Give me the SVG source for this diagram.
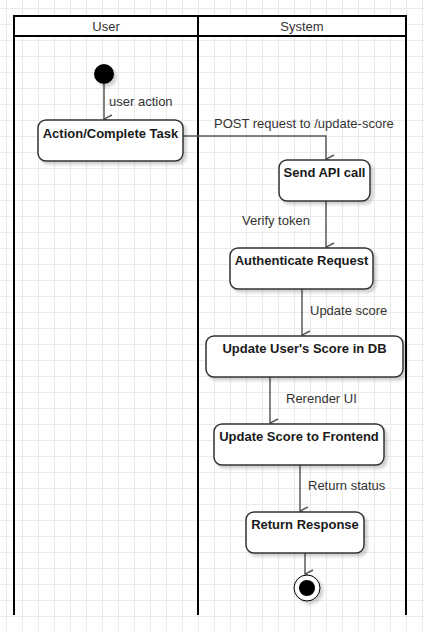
<svg xmlns="http://www.w3.org/2000/svg" width="424" height="631" viewBox="0 0 424 631">
<defs>
<pattern id="grid" x="6" y="8" width="16" height="16" patternUnits="userSpaceOnUse">
<path d="M0.5 0V16M0 0.5H16" fill="none" stroke="#ebebeb" stroke-width="1"/>
</pattern>
<filter id="sh" x="-20%" y="-20%" width="150%" height="150%">
<feDropShadow dx="3" dy="3" stdDeviation="1.5" flood-color="#000" flood-opacity="0.18"/>
</filter>
<marker id="arr" viewBox="0 0 12 12" refX="6" refY="11" markerWidth="12" markerHeight="12" markerUnits="userSpaceOnUse" orient="auto-start-reverse">
<path d="M2 3L6 11L10 3" fill="none" stroke="#595959" stroke-width="1.5"/>
</marker>
</defs>
<style>
.node rect{fill:#fff;stroke:#333;stroke-width:1.5;filter:url(#sh)}
.nt{font-family:"Liberation Sans",Arial,sans-serif;font-size:13px;font-weight:bold;fill:#1a1a1a;text-anchor:middle}
.lbl{font-family:"Liberation Sans",Arial,sans-serif;font-size:13px;fill:#333}
.hdr{font-family:"Liberation Sans",Arial,sans-serif;font-size:13px;fill:#333;text-anchor:middle}
.edge{fill:none;stroke:#595959;stroke-width:1.5;marker-end:url(#arr)}
.lane{fill:none;stroke:#000;stroke-width:2}
</style>
<rect width="424" height="631" fill="#fff"/>
<rect width="424" height="631" fill="url(#grid)"/>
<g id="swimlanes">
<rect x="14" y="16" width="392" height="20" fill="#fff" stroke="#000" stroke-width="2"/>
<path class="lane" d="M14 36V615M198 16V615M406 36V615"/>
<text class="hdr" x="106" y="30.5">User</text>
<text class="hdr" x="302" y="30.5">System</text>
</g>
<g id="connectors">
<path class="edge" d="M104 84V119"/>
<text class="lbl" x="109" y="106">user action</text>
<path class="edge" d="M183 136H326V159"/>
<text class="lbl" x="214" y="128">POST request to /update-score</text>
<path class="edge" d="M326 201V247"/>
<text class="lbl" x="242" y="225">Verify token</text>
<path class="edge" d="M302 289V335"/>
<text class="lbl" x="310" y="315">Update score</text>
<path class="edge" d="M270 377V423"/>
<text class="lbl" x="286" y="403">Rerender UI</text>
<path class="edge" d="M300 465V511"/>
<text class="lbl" x="308" y="490">Return status</text>
<path class="edge" d="M305 553V574"/>
</g>
<g id="start">
<circle cx="104" cy="74" r="10" fill="#000" filter="url(#sh)"/>
</g>
<g id="action" class="node">
<rect x="38" y="120" width="145" height="41" rx="8"/>
<text class="nt" x="110.5" y="138">Action/Complete Task</text>
</g>
<g id="sendapi" class="node">
<rect x="279" y="160" width="91" height="41" rx="8"/>
<text class="nt" x="324.5" y="177">Send API call</text>
</g>
<g id="auth" class="node">
<rect x="230" y="248" width="143" height="41" rx="8"/>
<text class="nt" x="301.5" y="265">Authenticate Request</text>
</g>
<g id="updatedb" class="node">
<rect x="206" y="336" width="197" height="41" rx="8"/>
<text class="nt" x="304.5" y="353">Update User's Score in DB</text>
</g>
<g id="frontend" class="node">
<rect x="214" y="424" width="170" height="41" rx="8"/>
<text class="nt" x="299" y="441">Update Score to Frontend</text>
</g>
<g id="response" class="node">
<rect x="246" y="512" width="118" height="41" rx="8"/>
<text class="nt" x="305" y="529">Return Response</text>
</g>
<g id="end">
<circle cx="307" cy="588" r="13" fill="#fff" stroke="#000" stroke-width="1" filter="url(#sh)"/>
<circle cx="307" cy="588" r="8" fill="#000"/>
</g>
</svg>
